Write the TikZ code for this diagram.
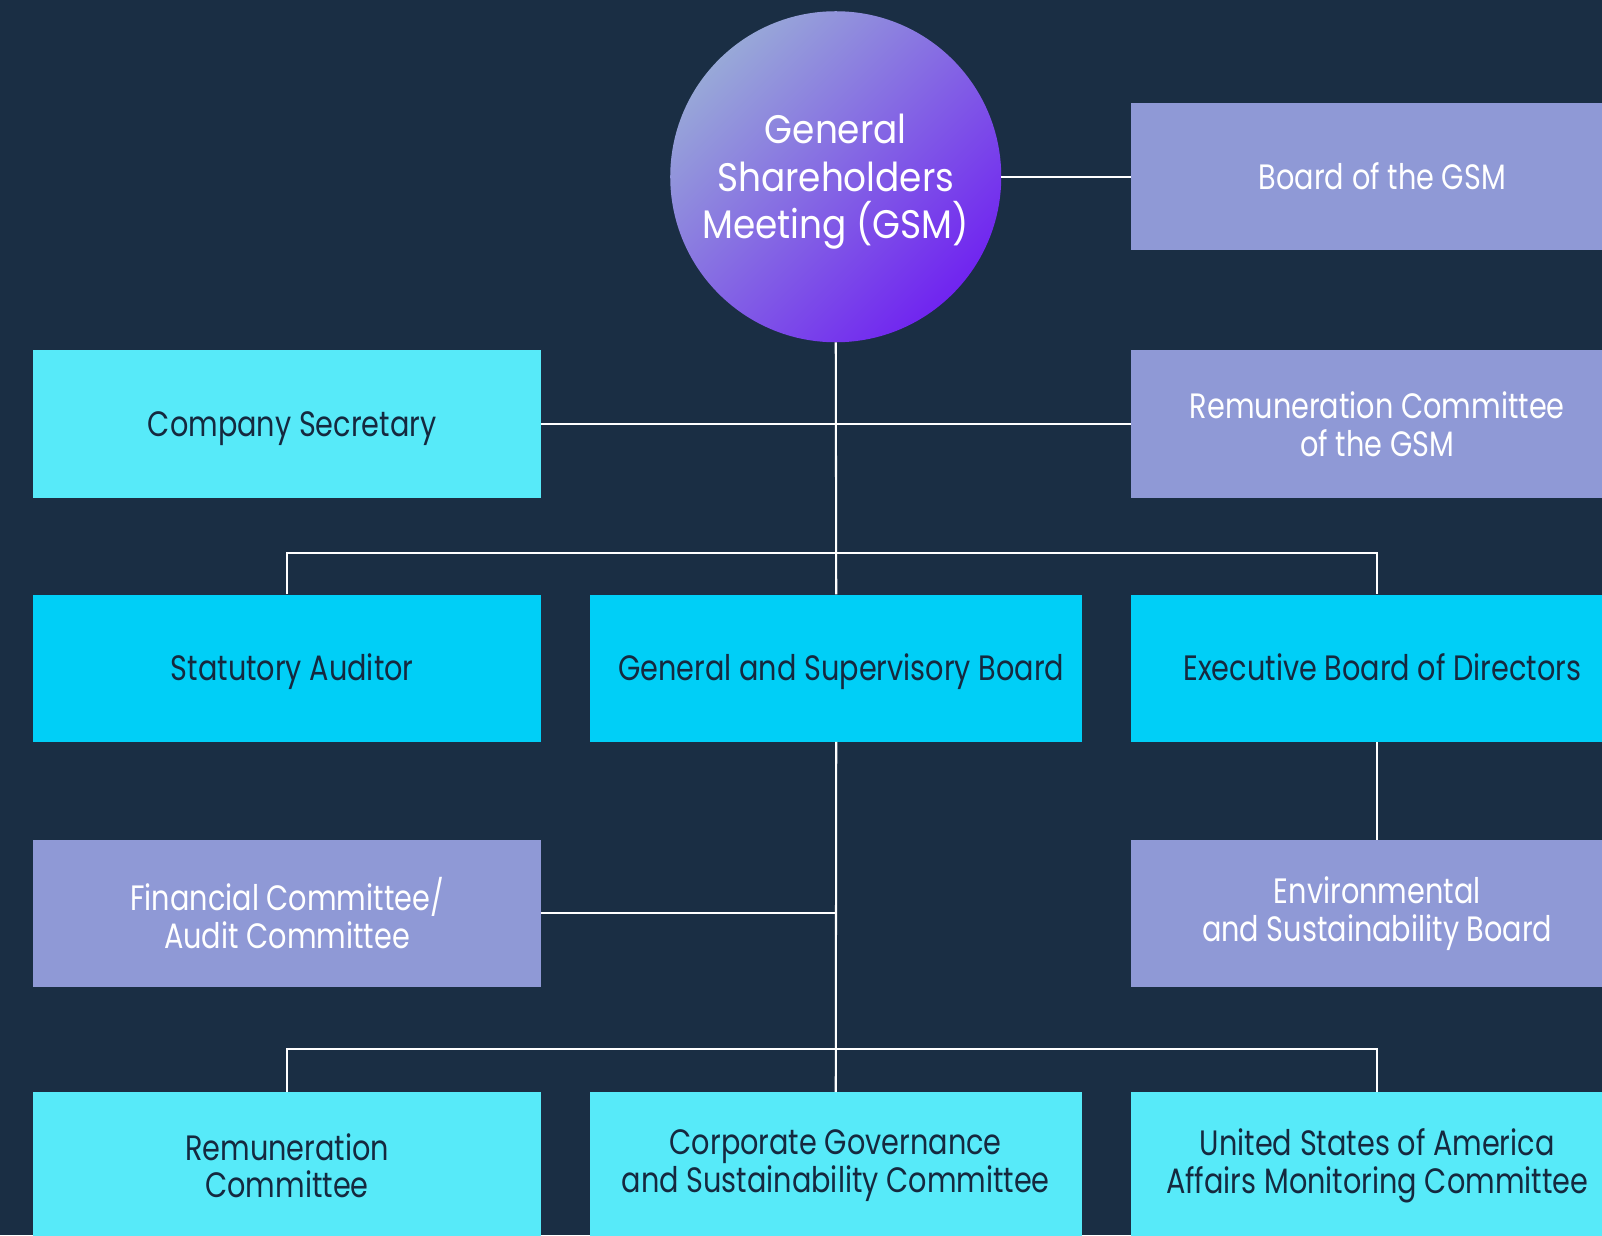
\documentclass[tikz,border=0pt]{standalone}
\usepackage{fontspec}
\setmainfont{Poppins}
\newfontfamily\boxfont{Poppins}[FakeStretch=0.815]
\newfontfamily\circfont{Poppins}[FakeStretch=0.9]
\definecolor{bgc}{HTML}{1A2E44}
\definecolor{lav}{HTML}{8F99D6}
\definecolor{lcyan}{HTML}{57EAF9}
\definecolor{cyanb}{HTML}{00CFF7}
\definecolor{darktxt}{HTML}{15293F}
\definecolor{gtop}{HTML}{98A8D8}
\definecolor{gbot}{HTML}{7024F0}
\tikzset{
  box/.style={rectangle, minimum height=144pt, inner sep=0pt, align=center,
    font=\boxfont\fontsize{34.5}{37}\selectfont},
  oneline/.style={text height=30pt, text depth=6pt, execute at begin node={\hspace*{10pt}}},
  lavbox/.style={box, fill=lav, text=white},
  lcbox/.style={box, fill=lcyan, text=darktxt},
  cbox/.style={box, fill=cyanb, text=darktxt},
  wide/.style={minimum width=497pt},
  mid/.style={minimum width=482pt},
  conn/.style={draw=white, line width=2pt},
  circtext/.style={text=white, align=center, inner sep=0pt,
    font=\circfont\fontsize{39}{46.5}\selectfont},
}
\begin{document}
\begin{tikzpicture}[x=1pt,y=1pt]
\useasboundingbox (0,0) rectangle (1568,-1209);
\fill[bgc] (0,0) rectangle (1568,-1209);
\clip (0,0) rectangle (1568,-1209);
% circle
\node[circle, minimum size=324pt, inner sep=0pt, top color=gtop, bottom color=gbot, shading angle=45] (gsm) at (818,-173) {};
\node[circtext] (gsmtext) at ([yshift=-5pt]gsm.center) {General\\Shareholders\\Meeting (GSM)};
% boxes
\node[lavbox, mid, oneline] (bgsm) at (1348,-173) {Board of the GSM};
\node[lcbox, wide, oneline] (cs) at (281,-415) {Company Secretary};
\node[lavbox, mid] (rgsm) at (1348,-415) {Remuneration Committee\\of the GSM};
\node[cbox, wide, oneline] (sa) at (281,-654) {Statutory Auditor};
\node[cbox, mid, oneline] (gsb) at (818.5,-654) {General and Supervisory Board};
\node[cbox, mid, oneline] (ebd) at (1348,-654) {Executive Board of Directors};
\node[lavbox, wide] (fac) at (281,-894) {Financial Committee/\\Audit Committee};
\node[lavbox, mid] (esb) at (1348,-894) {Environmental\\and Sustainability Board};
\node[lcbox, wide] (rc) at (281,-1141) {Remuneration\\Committee};
\node[lcbox, mid] (cgsc) at (818,-1141) {Corporate Governance\\and Sustainability Committee};
\node[lcbox, mid] (usa) at (1348,-1141) {United States of America\\Affairs Monitoring Committee};
% junctions
\coordinate (j1) at (818,-541);
\coordinate (j2) at (818,-1027);
% connectors
\draw[conn] (gsm.east) -- (bgsm.west);
\draw[conn] (gsm.south) -- (gsb.north);
\draw[conn] (cs.east) -- (rgsm.west);
\draw[conn] (sa.north) |- (j1) -| (ebd.north);
\draw[conn] (ebd.south) -- (esb.north);
\draw[conn] (gsb.south) -- (cgsc.north);
\draw[conn] (fac.east) -- (gsb.south |- fac.east);
\draw[conn] (rc.north) |- (j2) -| (usa.north);
\end{tikzpicture}
\end{document}
